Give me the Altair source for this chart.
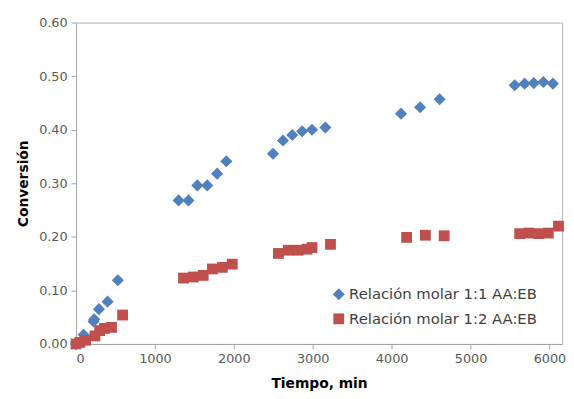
import altair as alt
import pandas as pd

serie_1 = "Relación molar 1:1 AA:EB"
serie_2 = "Relación molar 1:2 AA:EB"

t1 = [0, 96, 120, 222, 230, 290, 400, 530,
      1300, 1425, 1538, 1663, 1788, 1905,
      2497, 2623, 2741, 2866, 2991, 3160,
      4119, 4361, 4608,
      5560, 5685, 5802, 5924, 6044]
x1 = [0.000, 0.017, 0.013, 0.042, 0.046, 0.065, 0.079, 0.119,
      0.268, 0.268, 0.296, 0.296, 0.318, 0.341,
      0.355, 0.380, 0.390, 0.397, 0.400, 0.404,
      0.430, 0.442, 0.457,
      0.483, 0.486, 0.487, 0.489, 0.486]

t2 = [0, 50, 120, 240, 300, 360, 450, 590,
      1362, 1487, 1612, 1729, 1855, 1980,
      2565, 2690, 2815, 2928, 2991, 3225,
      4190, 4428, 4666,
      5623, 5739, 5865, 5986, 6115]
x2 = [0.000, 0.003, 0.007, 0.015, 0.025, 0.029, 0.031, 0.054,
      0.123, 0.125, 0.128, 0.140, 0.143, 0.149,
      0.169, 0.175, 0.175, 0.177, 0.180, 0.186,
      0.199, 0.203, 0.202,
      0.206, 0.207, 0.206, 0.207, 0.220]

y_ticks = [0, 0.1, 0.2, 0.3, 0.4, 0.5, 0.6]
x_ticks = [0, 1000, 2000, 3000, 4000, 5000, 6000]

df = pd.concat([
    pd.DataFrame({"t": t1, "x": x1, "s": serie_1}),
    pd.DataFrame({"t": t2, "x": x2, "s": serie_2}),
])

FONT = "DejaVu Sans"

chart = alt.Chart(df).mark_point(filled=True, opacity=1, clip=False).encode(
    x=alt.X("t:Q", title="Tiempo, min",
            scale=alt.Scale(domain=[0, 6160], nice=False, zero=False),
            axis=alt.Axis(values=x_ticks, format="d", grid=False)),
    y=alt.Y("x:Q", title="Conversión",
            scale=alt.Scale(domain=[0, 0.6], nice=False),
            axis=alt.Axis(values=y_ticks, format=".2f", grid=False)),
    color=alt.Color("s:N", title=None,
                    scale=alt.Scale(domain=[serie_1, serie_2], range=["#4F81BD", "#C0504D"]),
                    legend=alt.Legend(orient="none", legendX=259, legendY=268,
                                      labelFontSize=15, labelColor="#404040", labelFont=FONT,
                                      symbolSize=80, rowPadding=9, labelOffset=3,
                                      labelLimit=400)),
    shape=alt.Shape("s:N",
                    scale=alt.Scale(domain=[serie_1, serie_2], range=["diamond", "square"])),
    size=alt.Size("s:N", scale=alt.Scale(domain=[serie_1, serie_2], range=[150, 120]),
                  legend=None),
).properties(
    width=493, height=326,
    autosize=alt.AutoSizeParams(type="none"),
    padding={"left": 69, "top": 12, "right": 4, "bottom": 50},
).configure_view(
    stroke="#b5b5b5", strokeWidth=1
).configure_axis(
    labelFont=FONT, labelFontSize=13, labelColor="#595959",
    titleFont=FONT, titleFontSize=14, titleFontWeight="bold", titleColor="#000000",
    domainColor="#a6a6a6", tickColor="#a6a6a6", tickSize=5,
    labelPadding=4,
).configure_axisX(
    titlePadding=11
).configure_axisY(
    titlePadding=8
)

chart.save("out.html", embed_options={"renderer": "svg", "actions": False})
